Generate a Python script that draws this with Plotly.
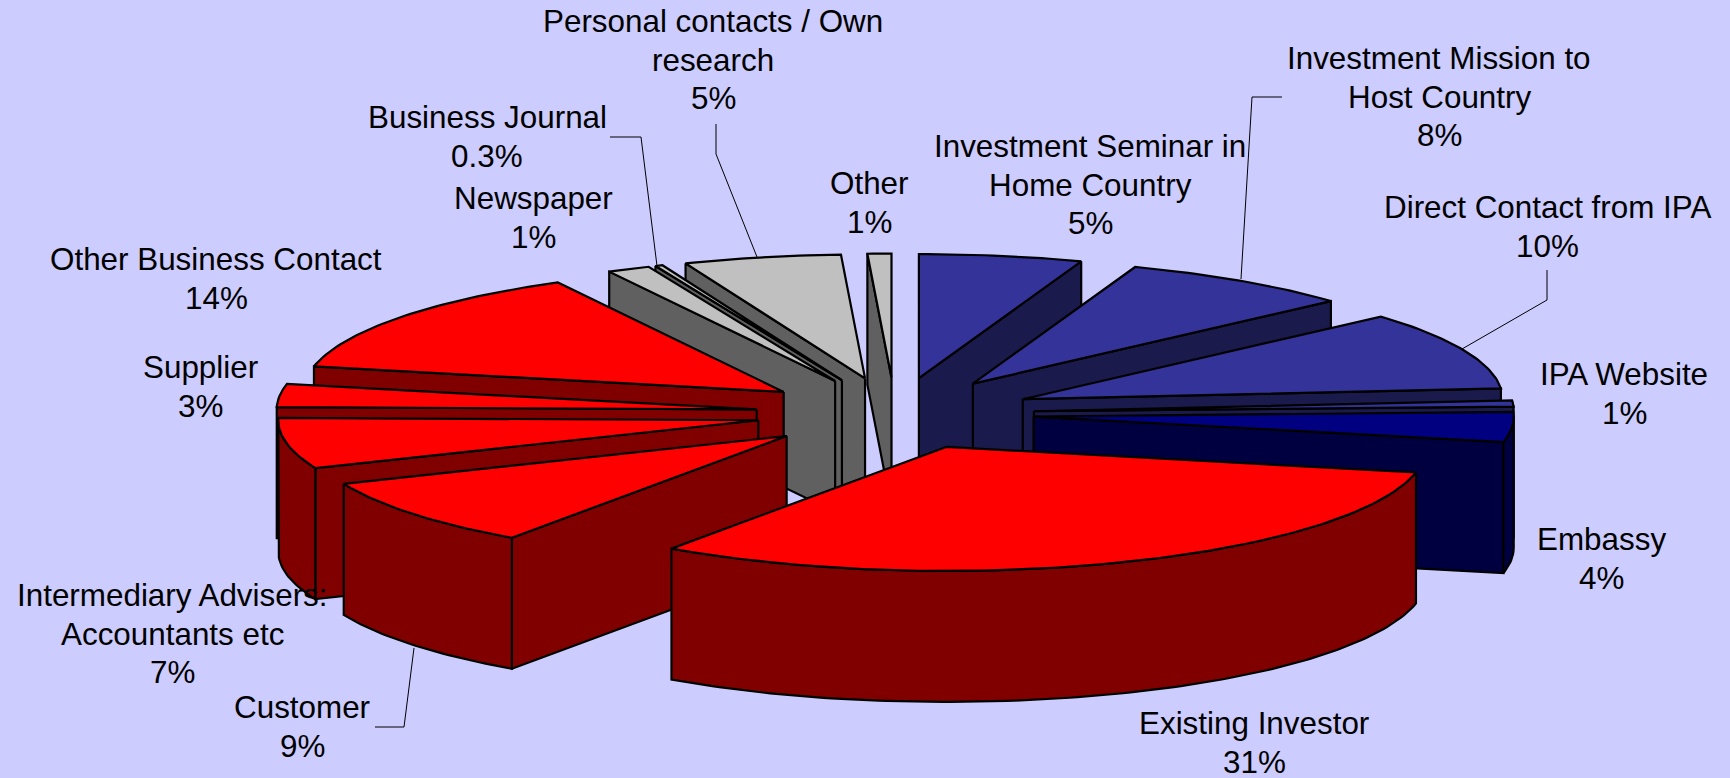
import math
import plotly.graph_objects as go

# ---- data ----
categories = ["Investment Seminar in<br>Home Country", "Investment Mission to<br>Host Country",
              "Direct Contact from IPA", "IPA Website", "Embassy", "Existing Investor", "Customer",
              "Intermediary Advisers:<br>Accountants etc", "Supplier", "Other Business Contact",
              "Newspaper", "Business Journal", "Personal contacts / Own<br>research", "Other"]
shares = [5.49, 7.91, 10.2, 0.8, 3.9, 31.4, 9.0, 6.6, 3.0, 13.9, 1.45, 0.25, 5.3, 0.8]
share_labels = ["5%", "8%", "10%", "1%", "4%", "31%", "9%", "7%", "3%", "14%", "1%", "0.3%", "5%", "1%"]

# ---- styling / layout ----
top_colors = ["#333399"] * 4 + ["#000080"] + ["#FF0000"] * 5 + ["#C0C0C0"] * 4
wall_colors = ["#1A1A4D"] * 4 + ["#000040"] + ["#800000"] * 5 + ["#606060"] * 4
label_xy = [(1090, 185), (1439, 97), (1547, 227), (1624, 394), (1601, 559), (1254, 743), (302, 727),
            (172, 634), (200, 387), (216, 279), (533, 218), (487, 137), (713, 60), (869, 203)]
leaders = [[(1282, 97), (1252, 97), (1241, 279)],
           [(1547, 270), (1547, 300), (1462, 349)],
           [(610, 137), (641, 137), (657, 266)],
           [(716, 124), (716, 154), (757, 257)],
           [(375, 727), (404, 727), (414, 648)]]
CX, CY, RX, RY, DEPTH, EXPLODE = 895, 413.5, 480, 124, 131, 0.29
LINE_STEP = 38.6
BG = "#CCCCFF"


def project(angle, radius, apex):
    return (apex[0] + RX * radius * math.sin(angle), apex[1] - RY * radius * math.cos(angle))


total = sum(shares)
slices, running = [], 0.0
for i, share in enumerate(shares):
    a0 = running / total * 2 * math.pi
    running += share
    a1 = running / total * 2 * math.pi
    mid = (a0 + a1) / 2
    slices.append((math.cos(mid), i, a0, a1, project(mid, EXPLODE, (CX, CY))))
slices.sort(key=lambda s: -s[0])

fig = go.Figure()


def poly(points, color, name):
    fig.add_trace(go.Scatter(x=[p[0] for p in points] + [points[0][0]],
                             y=[p[1] for p in points] + [points[0][1]],
                             mode="lines", fill="toself", fillcolor=color, name=name,
                             line=dict(color="black", width=2.2), hoverinfo="skip", showlegend=False))


def down(p):
    return (p[0], p[1] + DEPTH)


for _, i, a0, a1, apex in slices:
    n = max(4, int((a1 - a0) * 60))
    arc = [project(a0 + (a1 - a0) * k / n, 1, apex) for k in range(n + 1)]
    name = categories[i].replace("<br>", " ")
    if math.sin(a0) < 0:
        poly([apex, arc[0], down(arc[0]), down(apex)], wall_colors[i], name)
    if math.sin(a1) > 0:
        poly([apex, arc[-1], down(arc[-1]), down(apex)], wall_colors[i], name)
    lo, hi = max(a0, math.pi / 2), min(a1, 3 * math.pi / 2)
    if hi > lo:
        m = max(4, int((hi - lo) * 60))
        front = [project(lo + (hi - lo) * k / m, 1, apex) for k in range(m + 1)]
        poly(front + [down(p) for p in reversed(front)], wall_colors[i], name)
    poly([apex] + arc, top_colors[i], name)

for path in leaders:
    fig.add_trace(go.Scatter(x=[p[0] for p in path], y=[p[1] for p in path], mode="lines",
                             line=dict(color="black", width=1), hoverinfo="skip", showlegend=False))

for cat, lab, (x, y) in zip(categories, share_labels, label_xy):
    lines = cat.split("<br>") + [lab]
    for k, line in enumerate(lines):
        fig.add_annotation(x=x, y=y + (k - (len(lines) - 1) / 2) * LINE_STEP, xref="x", yref="y",
                           text=line, showarrow=False, align="center", xanchor="center", yanchor="middle",
                           font=dict(family="Liberation Sans, Arial", size=31.4, color="black"))

fig.update_layout(width=1730, height=778, margin=dict(l=0, r=0, t=0, b=0), autosize=False,
                  paper_bgcolor=BG, plot_bgcolor=BG, showlegend=False,
                  xaxis=dict(range=[0, 1730], visible=False, fixedrange=True),
                  yaxis=dict(range=[778, 0], visible=False, fixedrange=True))
fig.write_html("out.html", config={"displayModeBar": False},
               post_script="document.body.style.margin='0';document.body.style.overflow='hidden';"
                           "document.body.style.background='#CCCCFF';")
